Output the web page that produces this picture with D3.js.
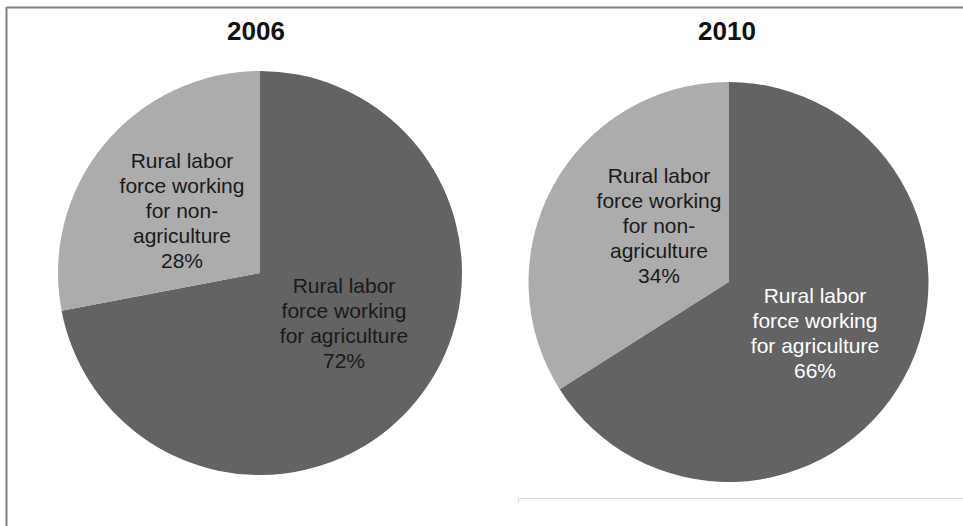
<!DOCTYPE html>
<html>
<head>
<meta charset="utf-8">
<script src="https://cdn.jsdelivr.net/npm/d3@7"></script>
<style>
  html, body { margin: 0; padding: 0; background: #fff; }
  svg { display: block; }
</style>
</head>
<body>
<svg id="chart" width="963" height="526"></svg>
<script>
// Share of rural labor force by sector, two survey years
const years = ["2006", "2010"];
const categories = [
  "Rural labor force working for agriculture",
  "Rural labor force working for non-agriculture"
];
const values2006 = [72, 28];
const values2010 = [66, 34];

// Label lines as wrapped in the chart
const labelLines = [
  ["Rural labor", "force working", "for agriculture"],
  ["Rural labor", "force working", "for non-", "agriculture"]
];

const sliceColors = ["#636363", "#acacac"];

const svg = d3.select("#chart");

// Frame lines
svg.append("line").attr("x1", 6.5).attr("x2", 963).attr("y1", 7.5).attr("y2", 7.5)
  .attr("stroke", "#7f7f7f").attr("stroke-width", 2);
svg.append("line").attr("x1", 6.5).attr("x2", 6.5).attr("y1", 7).attr("y2", 526)
  .attr("stroke", "#7f7f7f").attr("stroke-width", 2);
svg.append("path").attr("d", "M518.5,503 V498.5 H963")
  .attr("fill", "none").attr("stroke", "#dcdcdc").attr("stroke-width", 1);

const pies = [
  { year: years[0], values: values2006, cx: 260, cy: 273, r: 202, titleX: 256,
    labels: [{ x: 344, y: 293, fill: "#1a1a1a" }, { x: 182, y: 168, fill: "#1a1a1a" }] },
  { year: years[1], values: values2010, cx: 728.5, cy: 282, r: 200, titleX: 727,
    labels: [{ x: 815, y: 303, fill: "#ffffff" }, { x: 659, y: 183, fill: "#1a1a1a" }] }
];

const pieGen = d3.pie().sort(null).value(d => d);

pies.forEach(p => {
  const g = svg.append("g").attr("transform", `translate(${p.cx},${p.cy})`);
  const arc = d3.arc().innerRadius(0).outerRadius(p.r);
  const arcs = pieGen(p.values);

  g.selectAll("path.slice").data(arcs).join("path")
    .attr("class", "slice")
    .attr("d", arc)
    .attr("fill", (d, i) => sliceColors[i]);

  // Slice labels: category lines followed by the percentage
  arcs.forEach((a, i) => {
    const lines = labelLines[i].concat([a.data + "%"]);
    const pos = p.labels[i];
    const t = svg.append("text")
      .attr("x", pos.x).attr("y", pos.y)
      .attr("text-anchor", "middle")
      .attr("font-family", "Liberation Sans, Arial, sans-serif")
      .attr("font-size", 21)
      .attr("fill", pos.fill);
    lines.forEach((ln, k) => {
      t.append("tspan").attr("x", pos.x).attr("y", pos.y + k * 25).text(ln);
    });
  });

  svg.append("text")
    .attr("x", p.titleX).attr("y", 40)
    .attr("text-anchor", "middle")
    .attr("font-family", "Liberation Sans, Arial, sans-serif")
    .attr("font-weight", "bold")
    .attr("font-size", 26)
    .attr("fill", "#111")
    .text(p.year);
});
</script>
</body>
</html>
